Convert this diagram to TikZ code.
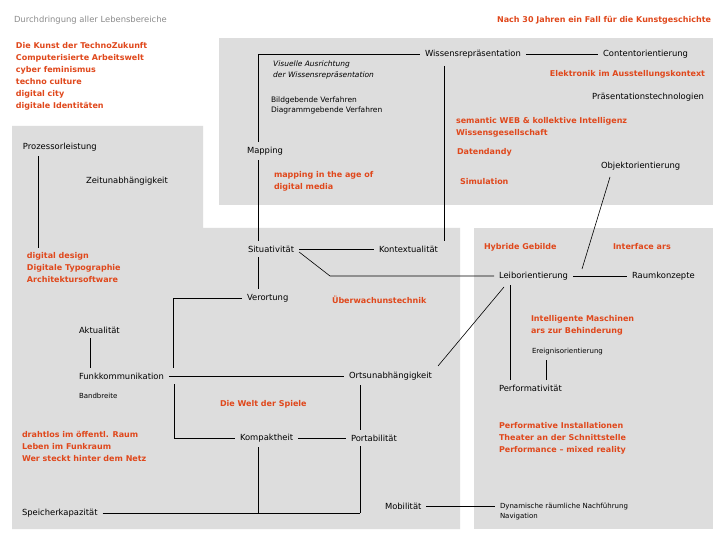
\documentclass[tikz,border=0pt]{standalone}
\usepackage{fontspec}
\setmainfont{DejaVu Sans}
\usetikzlibrary{calc}
\definecolor{rd}{HTML}{E0481C}
\definecolor{pan}{HTML}{DDDDDD}
\definecolor{ttl}{HTML}{8C8C8C}
\tikzset{
 t/.style={anchor=west,inner sep=2pt,outer sep=3pt,font=\fontsize{8.4}{10}\selectfont},
 sm/.style={anchor=west,inner sep=2pt,outer sep=3pt,font=\fontsize{7}{10}\selectfont},
 it/.style={anchor=west,inner sep=2pt,font=\fontsize{7.5}{11}\selectfont\itshape,align=left},
 r/.style={anchor=west,inner sep=2pt,outer sep=3pt,text=rd,font=\fontsize{8}{12}\selectfont\bfseries,align=left},
 ln/.style={draw=black,line width=0.6pt},
 panel/.style={fill=pan,draw=none}
}
\begin{document}
\begin{tikzpicture}[x=1pt,y=-1pt]
\useasboundingbox (0,0) rectangle (720,540);
\fill[white] (0,0) rectangle (720,540);
\fill[panel] (219,38) rectangle (713,205);
\fill[panel] (12,126) -- (203,126) -- (203,228) -- (460,228) -- (460,529) -- (12,529) -- cycle;
\fill[panel] (474,228) rectangle (713,529);

\node[t,text=ttl] (ttl) at (9,20) {Durchdringung aller Lebensbereiche};
\node[r,anchor=east] (nach) at (716,20) {Nach 30 Jahren ein Fall für die Kunstgeschichte};
\node[r,anchor=north west] (kunst) at (11,37) {Die Kunst der TechnoZukunft\\Computerisierte Arbeitswelt\\cyber feminismus\\techno culture\\digital city\\digitale Identitäten};

\node[it] (vis) at (271,70) {Visuelle Ausrichtung\\der Wissensrepräsentation};
\node[sm,align=left,font=\fontsize{7.5}{10}\selectfont] (bild) at (266,105) {Bildgebende Verfahren\\Diagrammgebende Verfahren};
\node[t] (map) at (242,151) {Mapping};
\node[r] (mapage) at (269,181) {mapping in the age of\\digital media};
\node[t] (wiss) at (420,54) {Wissensrepräsentation};
\node[t] (cont) at (598,54) {Contentorientierung};
\node[r,anchor=east] (elek) at (710,74) {Elektronik im Ausstellungskontext};
\node[t,anchor=east] (praes) at (709,97) {Präsentationstechnologien};
\node[r] (sem) at (451,127) {semantic WEB \& kollektive Intelligenz\\Wissensgesellschaft};
\node[r] (dat) at (452,152) {Datendandy};
\node[t] (obj) at (596,166) {Objektorientierung};
\node[r] (sim) at (455,182) {Simulation};

\node[t] (proz) at (18,147) {Prozessorleistung};
\node[t] (zeit) at (81,181) {Zeitunabhängigkeit};
\node[r] (dd) at (22,268) {digital design\\Digitale Typographie\\Architektursoftware};

\node[t] (sit) at (243,249) {Situativität};
\node[t] (kon) at (374,249) {Kontextualität};
\node[r] (hyb) at (479,247) {Hybride Gebilde};
\node[r] (ifa) at (608,247) {Interface ars};
\node[t] (leib) at (494,276) {Leiborientierung};
\node[t] (raum) at (627,276) {Raumkonzepte};
\node[t] (ver) at (242,298) {Verortung};
\node[r] (ueb) at (327,300) {Überwachunstechnik};
\node[r] (int) at (526,325) {Intelligente Maschinen\\ars zur Behinderung};
\node[t] (akt) at (74,330) {Aktualität};
\node[sm] (ereig) at (527,352) {Ereignisorientierung};
\node[t] (funk) at (74,376) {Funkkommunikation};
\node[t] (orts) at (344,376) {Ortsunabhängigkeit};
\node[t] (perf) at (494,388) {Performativität};
\node[sm] (band) at (74,396) {Bandbreite};
\node[r] (welt) at (215,404) {Die Welt der Spiele};
\node[r] (draht) at (17,446) {drahtlos im öffentl. Raum\\Leben im Funkraum\\Wer steckt hinter dem Netz};
\node[t] (komp) at (235,438) {Kompaktheit};
\node[t] (port) at (346,438) {Portabilität};
\node[r] (pinst) at (494,438) {Performative Installationen\\Theater an der Schnittstelle\\Performance – mixed reality};
\node[t] (mob) at (380,506) {Mobilität};
\node[t] (speich) at (17,513) {Speicherkapazität};
\node[sm,align=left] (dyn) at (495,512) {Dynamische räumliche Nachführung\\Navigation};

\coordinate (c1) at (258,54);
\coordinate (c2) at (330,276);
\coordinate (c3) at (173,298);
\coordinate (c4) at (174,438);
\coordinate (c5) at (360,513);
\coordinate (c6) at (258,513);

% connectors
\draw[ln] (map.north -| c1) -- (c1) -- (wiss.west);
\draw[ln] (wiss.east) -- (cont.west);
\draw[ln] (map.south -| c1) -- (sit.north -| c1);
\draw[ln] (sit.south -| c1) -- (ver.north -| c1);
\draw[ln] (444,66) -- (kon.north -| 444,0);
\draw[ln] (sit.east) -- (kon.west);
\draw[ln] ([yshift=-3pt]sit.east) -- (c2) -- (leib.west);
\draw[ln] (leib.east) -- (raum.west);
\draw[ln] (610,177) -- (582,269);
\draw[ln] (504,287) -- (438,366);
\draw[ln] (leib.south -| 510,0) -- (perf.north -| 510,0);
\draw[ln] (ereig.south -| 546,0) -- (perf.north -| 546,0);
\draw[ln] (ver.west) -- (c3) -- (funk.north -| c3);
\draw[ln] (akt.south -| 90,0) -- (funk.north -| 90,0);
\draw[ln] (funk.east) -- (orts.west);
\draw[ln] (funk.south -| c4) -- (c4) -- (komp.west);
\draw[ln] (komp.east) -- (port.west);
\draw[ln] (orts.south -| c5) -- (port.north -| c5);
\draw[ln] (port.south -| c5) -- (c5);
\draw[ln] (speich.east) -- (c5);
\draw[ln] (komp.south -| c6) -- (c6);
\draw[ln] (mob.east) -- (dyn.west |- mob.east);
\draw[ln] (proz.south -| 38,0) -- (dd.north -| 38,0);
\end{tikzpicture}
\end{document}
